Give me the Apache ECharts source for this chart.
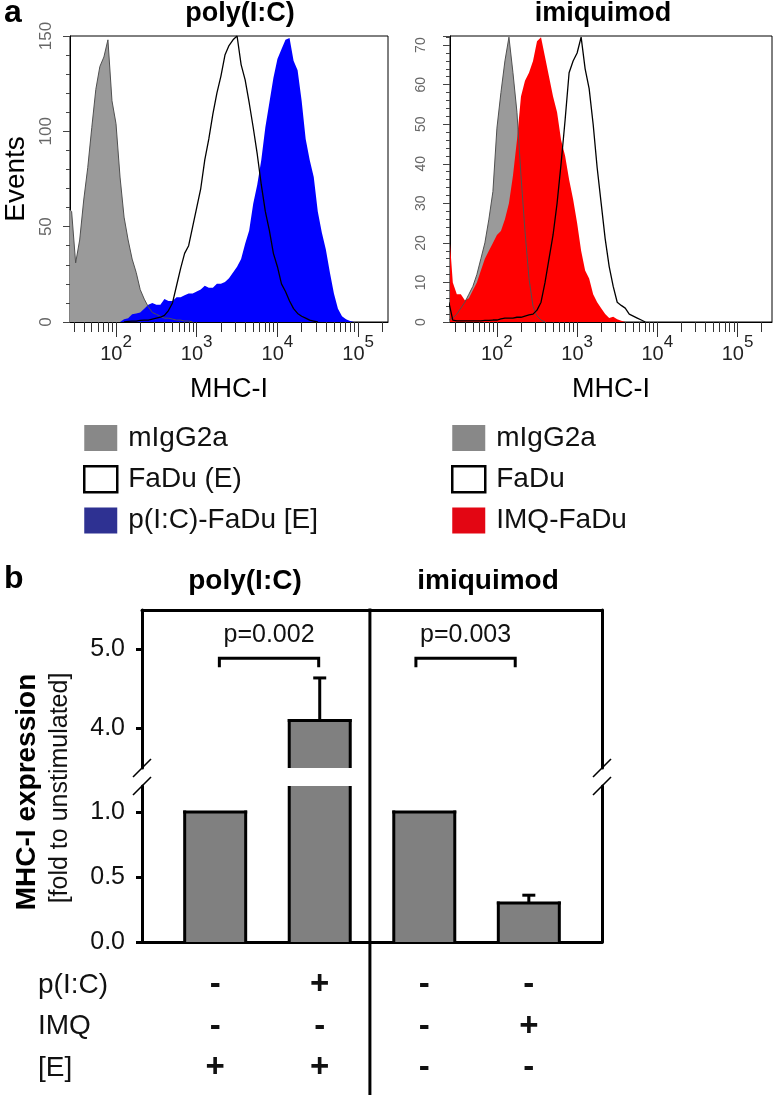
<!DOCTYPE html>
<html><head><meta charset="utf-8">
<script src="https://cdn.jsdelivr.net/npm/echarts@6/dist/echarts.min.js"></script>
<style>html,body{margin:0;padding:0;background:#fff}#c{width:774px;height:1095px}</style>
</head><body><div id="c"></div>
<script>
// ---------------- data ----------------
// histogram channel positions (log10 of MHC-I fluorescence)
const channelLog = [1.40,1.45,1.50,1.55,1.60,1.65,1.70,1.75,1.80,1.85,1.90,1.95,2.00,2.05,2.10,2.15,2.20,2.25,2.30,2.35,2.40,2.45,2.50,2.55,2.60,2.65,2.70,2.75,2.80,2.85,2.90,2.95,3.00,3.05,3.10,3.15,3.20,3.25,3.30,3.35,3.40,3.45,3.50,3.55,3.60,3.65,3.70,3.75,3.80,3.85,3.90,3.95,4.00,4.05,4.10,4.15,4.20,4.25,4.30,4.35,4.40,4.45,4.50,4.55,4.60,4.65,4.70,4.75,4.80,4.85,4.90,4.95,5.00];
// poly(I:C) panel (events)
const polyIsotype = [60,58,31,43,64,81,102,122,134,139,148,116,104,76,55,43,33,26,17,12,8,5,4,3,2,2,1.5,1,1,0.5,0.5,0];
const polyFaDuE = [null,null,null,null,null,null,null,null,null,null,null,null,null,null,
  0,0.3,0.5,0.5,0.8,1,1,1.5,2,2.5,3.5,6,10,19,28,36,40,50,60,70,85,96,109,120,129,140,145,148,150,135,127,115,102,88,72,58,48,36,29,20,16,11,7,4.5,3,2,1,0.5,0];
const polyPIC = [null,null,null,null,null,null,null,null,null,null,null,null,null,
  0,1.5,2,4,4.5,5,7,9,10,9,9,12,11,11,13,13,14,15,15,16,17,19,18,18,20,20,21,23,26,29,33,41,48,62,72,85,102,115,128,138,143,148,149,137,132,116,96,85,76,58,47,38,26,15,7,3,1.5,0.5,0];
// imiquimod panel (events)
const imqIsotype = [0.5,1,2,3.5,5,7,9,12,16,20,26,33,49,58,66,72,63,53,37,23,11,4,1.5,0.5,0];
const imqFaDu = [5,0.5,0.3,0.3,0.3,0.3,0.3,0.3,0.3,0.4,0.4,0.5,0.5,0.8,1,1,1,1.2,1.2,1.5,1.8,2,3,5,10,16,22,30,40,51,63,66,68,72,64,59,50,39,30,21,14,9,5,4.2,3.5,2,1.5,1,0.5,0];
const imqIMQ = [24,10,7,7,5.5,6,8,10,13,16,18,20,22,23,26,30,37,46,57,61,63,66,71,72,67,62,57,53,46,42,36,31,25,18,13,11,7,5,3.5,2,1,1.3,0.7,0.3,0];
const histExponents = [2,3,4,5];
const histNamesPoly = ['mIgG2a','FaDu (E)','p(I:C)-FaDu [E]'];
const histNamesImq = ['mIgG2a','FaDu','IMQ-FaDu'];
const groupNames = ['poly(I:C)','imiquimod'];

// panel b bars
const barMeans = [1.0, 4.1, 1.0, 0.30];
const barErrors = [0, 0.54, 0, 0.06];
const yTicksUpper = [4.0, 5.0];
const yTicksLower = [0.0, 0.5, 1.0];
const pLabels = ['p=0.002','p=0.003'];
const bracketStart = [0.04, 1.92];
const bracketEnd = [0.99, 2.87];
const bracketLevel = [4.89, 4.89];
const rowLabels = ['p(I:C)','IMQ','[E]'];
const signsPIC = ['-','+','-','-'];
const signsIMQ = ['-','-','-','+'];
const signsE = ['+','+','-','-'];

// ---------------- chart ----------------
const FONT = '"Liberation Sans", Arial, Helvetica, sans-serif';
const chart = echarts.init(document.getElementById('c'), null, {renderer:'canvas'});
const pts = arr => arr.map((v,i) => [channelLog[i], v]);
const minorTicks = [];
for (let d = 1; d <= 5; d++) for (let k = 2; k <= 9; k++) minorTicks.push(Math.log10(k * Math.pow(10, d)));

function histX(grid, min, max) {
  return [{
    type:'value', gridIndex:grid, min:min, max:max, position:'bottom',
    axisLine:{show:true, onZero:false, lineStyle:{color:'#000', width:1}},
    axisTick:{show:true, length:10, customValues:minorTicks, lineStyle:{color:'#333', width:1}},
    axisLabel:{show:true, customValues:histExponents, margin:12,
      formatter: v => '{b|10}{s|' + Math.round(v) + '}',
      rich:{b:{fontSize:20, color:'#222', fontFamily:FONT}, s:{fontSize:17, color:'#222', fontFamily:FONT, padding:[0,0,24,0]}}},
    splitLine:{show:false},
    name:'MHC-I', nameLocation:'middle', nameGap:54, nameMoveOverlap:false,
    nameTextStyle:{fontSize:27, color:'#000', fontFamily:FONT}
  },{
    type:'value', gridIndex:grid, min:min, max:max, position:'bottom',
    axisLine:{show:false}, axisTick:{show:true, length:15, customValues:histExponents, lineStyle:{color:'#333', width:1}},
    axisLabel:{show:false}, splitLine:{show:false}
  }];
}
function histY(grid, max, interval, fs, margin, name) {
  return {
    type:'value', gridIndex:grid, min:0, max:max, interval:interval,
    axisLine:{show:true, onZero:false, lineStyle:{color:'#000', width:1}},
    axisTick:{show:true, length:7, lineStyle:{color:'#444'}},
    minorTick:{show:true, splitNumber:5, length:4, lineStyle:{color:'#444'}},
    axisLabel:{rotate:90, fontSize:fs, color:'#666', margin:margin, showMaxLabel: max % interval === 0, fontFamily:FONT},
    splitLine:{show:false}, minorSplitLine:{show:false},
    name:name, nameLocation:'middle', nameGap:40, nameMoveOverlap:false, nameRotate:90,
    nameTextStyle:{fontSize:28, color:'#000', fontFamily:FONT}
  };
}
function histSeries(xi, yi, iso, fadu, stim, names, stimColor) {
  const base = {type:'line', xAxisIndex:xi, yAxisIndex:yi, symbol:'none', silent:true, connectNulls:false};
  return [
    Object.assign({}, base, {name:names[0], data:pts(iso), lineStyle:{width:0}, itemStyle:{color:'#888'}, areaStyle:{color:'#9a9a9a', opacity:1}}),
    Object.assign({}, base, {name:names[2], data:pts(stim), lineStyle:{width:0}, itemStyle:{color:stimColor}, areaStyle:{color:stimColor, opacity:1}}),
    Object.assign({}, base, {name:names[0] + ' outline', data:pts(iso), lineStyle:{width:1, color:'#505050'}, itemStyle:{color:'#505050'}}),
    Object.assign({}, base, {name:names[1], data:pts(fadu), lineStyle:{width:1.3, color:'#000'}, itemStyle:{color:'#fff'}})
  ];
}
function legendFor(left, names, stimLegendColor) {
  return {
    left:left, top:424, orient:'vertical', padding:0, itemWidth:33, itemHeight:26, itemGap:13, icon:'rect',
    selectedMode:false,
    textStyle:{fontSize:28, color:'#111', fontFamily:FONT, padding:[0,0,0,6]},
    data:[
      {name:names[0], itemStyle:{color:'#888888', borderWidth:0}},
      {name:names[1], itemStyle:{color:'#ffffff', borderColor:'#000', borderWidth:2.5}},
      {name:names[2], itemStyle:{color:stimLegendColor, borderWidth:0}}
    ]
  };
}

const BAR_W = 61;
function renderBar(params, api) {
  const x = api.value(0), v = api.value(1), e = api.value(2);
  const cs = params.coordSys;
  const top = api.coord([x, v]);
  const base = api.coord([x, 0]);
  const yMin = cs.y, yMax = cs.y + cs.height;
  const yTop = Math.max(top[1], yMin), yBot = Math.min(base[1], yMax);
  const h = BAR_W / 2;
  const ch = [];
  const topIn = top[1] >= yMin - 0.5 && top[1] <= yMax + 0.5;
  if (yTop < yBot) {
    ch.push({type:'rect', shape:{x:top[0]-h, y:yTop, width:BAR_W, height:yBot-yTop}, style:{fill:'#808080'}});
    ch.push({type:'line', shape:{x1:top[0]-h, y1:yTop-(topIn?1.5:0), x2:top[0]-h, y2:yBot}, style:{stroke:'#000', lineWidth:3}});
    ch.push({type:'line', shape:{x1:top[0]+h, y1:yTop-(topIn?1.5:0), x2:top[0]+h, y2:yBot}, style:{stroke:'#000', lineWidth:3}});
    if (topIn) ch.push({type:'line', shape:{x1:top[0]-h-1.5, y1:top[1], x2:top[0]+h+1.5, y2:top[1]}, style:{stroke:'#000', lineWidth:3}});
  }
  if (e > 0 && topIn) {
    const et = api.coord([x, v + e]);
    ch.push({type:'line', shape:{x1:top[0], y1:top[1], x2:top[0], y2:et[1]}, style:{stroke:'#000', lineWidth:3}});
    ch.push({type:'line', shape:{x1:top[0]-6.5, y1:et[1], x2:top[0]+6.5, y2:et[1]}, style:{stroke:'#000', lineWidth:3}});
  }
  return {type:'group', children:ch};
}
function renderBracket(params, api) {
  const s = api.coord([api.value(0), api.value(2)]);
  const e = api.coord([api.value(1), api.value(2)]);
  const leg = 9;
  return {type:'group', children:[
    {type:'polyline', shape:{points:[[s[0], s[1]+leg],[s[0], s[1]],[e[0], e[1]],[e[0], e[1]+leg]]}, style:{stroke:'#000', lineWidth:3, fill:'none'}},
    {type:'text', x:(s[0]+e[0])/2, y:s[1]-23, style:{text:pLabels[params.dataIndex], font:'25px ' + FONT, fill:'#111', textAlign:'center', textVerticalAlign:'middle', align:'center', verticalAlign:'middle'}}
  ]};
}
const signRows = [signsPIC, signsIMQ, signsE];
function renderSign(params, api) {
  const c = api.value(0), r = api.value(1);
  const p = api.coord([c, r]);
  return {type:'text', x:p[0], y:p[1], style:{text:signRows[r][c], font:'bold 33px ' + FONT, fill:'#111', textAlign:'center', textVerticalAlign:'middle', align:'center', verticalAlign:'middle'}};
}
const signData = [];
signRows.forEach((row, r) => row.forEach((s, c) => signData.push([c, r])));

const thick = {color:'#000', width:3};
function barX(grid, pos, showLine) {
  return {type:'value', gridIndex:grid, min:-0.7, max:3.7, position:pos, show:true,
    axisLine:{show:showLine, onZero:false, lineStyle:thick}, axisTick:{show:false}, axisLabel:{show:false}, splitLine:{show:false}};
}
function barY(grid, min, max, ticks) {
  return [{type:'value', gridIndex:grid, min:min, max:max, position:'left',
    axisLine:{show:true, onZero:false, lineStyle:thick},
    axisTick:{show:true, length:6, customValues:ticks, lineStyle:thick},
    axisLabel:{customValues:ticks, formatter:v => v.toFixed(1), fontSize:25, color:'#111', margin:17, fontFamily:FONT},
    splitLine:{show:false}},
   {type:'value', gridIndex:grid, min:min, max:max, position:'right',
    axisLine:{show:true, onZero:false, lineStyle:thick}, axisTick:{show:false}, axisLabel:{show:false}, splitLine:{show:false}}];
}

const gridBase = {containLabel:false, outerBoundsMode:'none'};
const titleStyle = (fs) => ({fontSize:fs, fontWeight:'bold', color:'#000', fontFamily:FONT});
const option = {
  animation:false,
  backgroundColor:'#fff',
  textStyle:{fontFamily:FONT},
  title:[
    {text:'a', left:4, top:-3, padding:0, textStyle:titleStyle(32)},
    {text:groupNames[0], left:240, top:0, padding:0, textAlign:'center', textStyle:titleStyle(27)},
    {text:groupNames[1], left:603, top:0, padding:0, textAlign:'center', textStyle:titleStyle(27)},
    {text:'b', left:4, top:563, padding:0, textStyle:titleStyle(32)},
    {text:groupNames[0], left:245, top:567, padding:0, textAlign:'center', textStyle:titleStyle(28)},
    {text:groupNames[1], left:488, top:567, padding:0, textAlign:'center', textStyle:titleStyle(28)}
  ],
  legend:[legendFor(83, histNamesPoly, '#2e3192'), legendFor(451, histNamesImq, '#e30613')],
  grid:[
    Object.assign({left:70, top:36, width:318, height:286, show:true, borderColor:'#000', borderWidth:1, backgroundColor:'transparent'}, gridBase),
    Object.assign({left:450, top:36, width:322, height:286, show:true, borderColor:'#000', borderWidth:1, backgroundColor:'transparent'}, gridBase),
    Object.assign({left:142, top:610, width:460, height:158}, gridBase),
    Object.assign({left:142, top:786, width:460, height:156}, gridBase),
    Object.assign({left:142, top:964, width:460, height:125}, gridBase)
  ],
  xAxis:[].concat(histX(0, 1.43, 5.37), histX(1, 1.415, 5.43),
    [barX(2, 'top', true), barX(3, 'bottom', true), Object.assign(barX(4, 'bottom', false), {show:false})]),
  yAxis:[
    histY(0, 150, 50, 17, 15, 'Events'),
    histY(1, 72.3, 10, 14, 22, ''),
  ].concat(barY(2, 3.5, 5.5, yTicksUpper), barY(3, 0, 1.2, yTicksLower), [{
    type:'category', gridIndex:4, data:rowLabels, inverse:true,
    axisLine:{show:false}, axisTick:{show:false},
    axisLabel:{align:'left', margin:104, fontSize:28, color:'#111', fontFamily:FONT}, splitLine:{show:false}
  }]),
  series:[].concat(
    histSeries(0, 0, polyIsotype, polyFaDuE, polyPIC, histNamesPoly, '#0000ff'),
    histSeries(2, 1, imqIsotype, imqFaDu, imqIMQ, histNamesImq, '#ff0000'),
    [
      {type:'custom', xAxisIndex:4, yAxisIndex:2, renderItem:renderBar, data:barMeans.map((m,i)=>[i, m, barErrors[i]]), silent:true},
      {type:'custom', xAxisIndex:5, yAxisIndex:4, renderItem:renderBar, data:barMeans.map((m,i)=>[i, m, barErrors[i]]), silent:true},
      {type:'custom', xAxisIndex:4, yAxisIndex:2, renderItem:renderBracket, data:bracketStart.map((s,i)=>[s, bracketEnd[i], bracketLevel[i]]), silent:true, clip:false},
      {type:'custom', xAxisIndex:6, yAxisIndex:6, renderItem:renderSign, data:signData, silent:true, clip:false}
    ])
};
chart.setOption(option);

// decorations: group divider, axis-break marks, y-axis title of panel b
const groupDivider = 1.48;
const xDiv = chart.convertToPixel({xAxisIndex:4}, groupDivider);
const yTopB = chart.convertToPixel({yAxisIndex:2}, 5.5);
const yUpBot = chart.convertToPixel({yAxisIndex:2}, 3.5);
const yLowTop = chart.convertToPixel({yAxisIndex:4}, 1.2);
const xL = chart.convertToPixel({xAxisIndex:4}, -0.7);
const xR = chart.convertToPixel({xAxisIndex:4}, 3.7);
const yLowBot = chart.convertToPixel({yAxisIndex:4}, 0);
const gfx = [
  {type:'line', shape:{x1:xDiv, y1:yTopB - 1.5, x2:xDiv, y2:chart.getHeight()}, style:{stroke:'#000', lineWidth:3}, silent:true}
];
[xL, xR].forEach(x => [yUpBot, yLowTop].forEach(y => {
  gfx.push({type:'line', shape:{x1:x-9, y1:y+9, x2:x+9, y2:y-9}, style:{stroke:'#000', lineWidth:1.6}, silent:true});
}));
const yMid = (yTopB + yLowBot) / 2;
gfx.push({type:'text', x:27, y:yMid + 16, rotation:Math.PI/2, silent:true,
  style:{text:'MHC-I expression', font:'bold 28px ' + FONT, fill:'#000', textAlign:'center', textVerticalAlign:'middle', align:'center', verticalAlign:'middle'}});
gfx.push({type:'text', x:60, y:yMid + 12, rotation:Math.PI/2, silent:true,
  style:{text:'[fold to unstimulated]', font:'25px ' + FONT, fill:'#111', textAlign:'center', textVerticalAlign:'middle', align:'center', verticalAlign:'middle'}});
chart.setOption({graphic:gfx});
</script></body></html>
